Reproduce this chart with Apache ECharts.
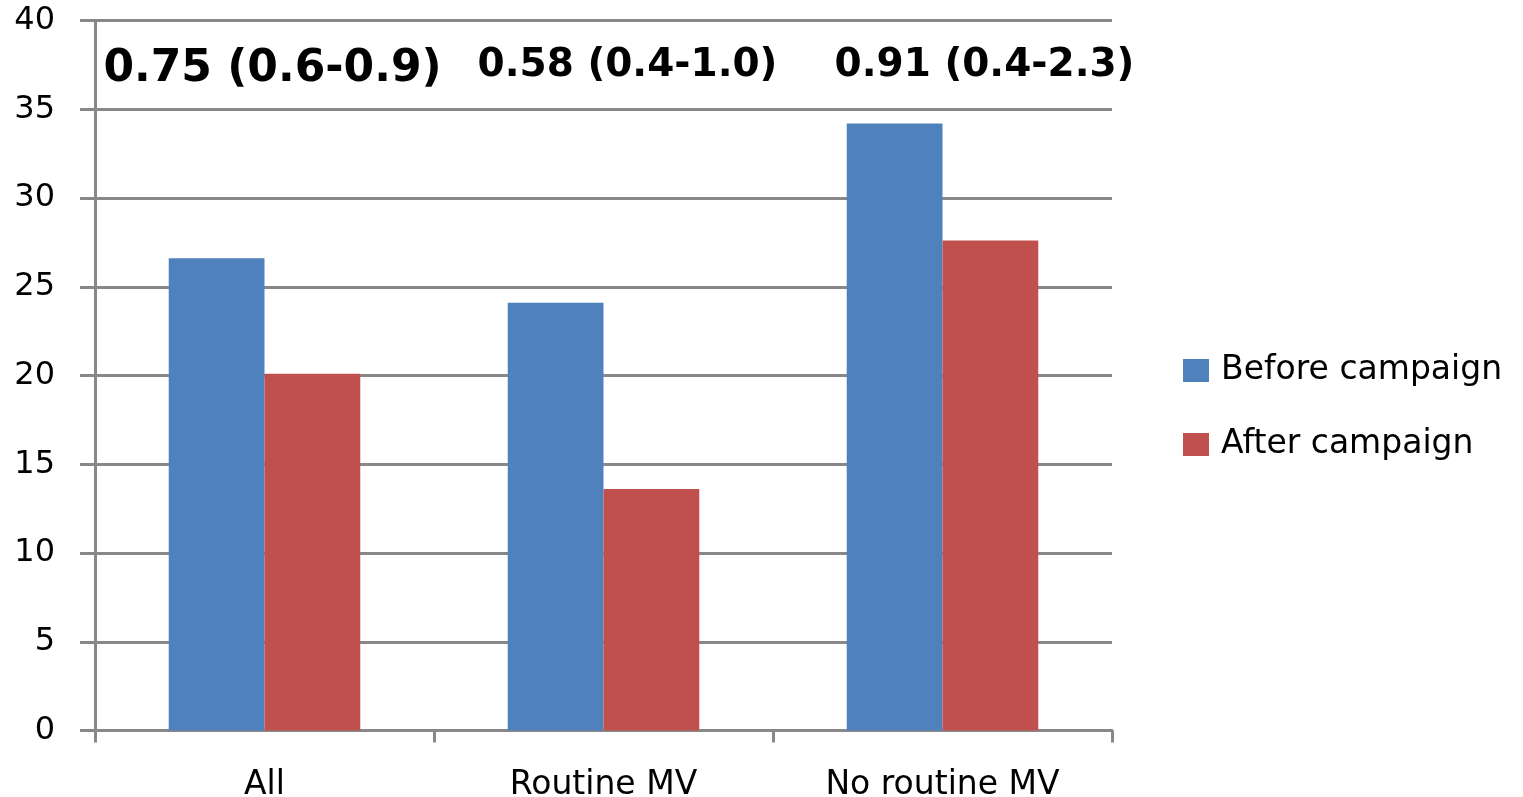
<!DOCTYPE html>
<html>
<head>
<meta charset="utf-8">
<script src="https://cdn.jsdelivr.net/npm/echarts@6/dist/echarts.min.js"></script>
<style>html,body{margin:0;padding:0;background:#fff;}#c{width:1523px;height:797px;}</style>
</head>
<body>
<div id="c"></div>
<script>
const categories = ['All', 'Routine MV', 'No routine MV'];
const beforeValues = [26.6, 24.1, 34.2];
const afterValues = [20.1, 13.6, 27.6];
const seriesNames = ['Before campaign', 'After campaign'];
const annotations = ['0.75 (0.6-0.9)', '0.58 (0.4-1.0)', '0.91 (0.4-2.3)'];

const FONT = '"DejaVu Sans", Verdana, sans-serif';
const chart = echarts.init(document.getElementById('c'), null, {renderer: 'canvas'});
const option = {
  animation: false,
  backgroundColor: '#fff',
  grid: {left: 95, right: 411, top: 20.5, bottom: 66.5, containLabel: false, outerBoundsMode: 'none'},
  legend: {
    orient: 'vertical',
    left: 1183,
    top: 354,
    padding: 0,
    itemWidth: 26,
    itemHeight: 23,
    itemGap: 41,
    icon: 'rect',
    data: seriesNames,
    textStyle: {fontFamily: FONT, fontSize: 33, color: '#000', lineHeight: 30, padding: [0, 0, 0, 7]}
  },
  xAxis: {
    type: 'category',
    data: categories,
    axisLine: {lineStyle: {color: '#888', width: 3}},
    axisTick: {show: true, length: 12, lineStyle: {color: '#888', width: 3}},
    axisLabel: {fontFamily: FONT, fontSize: 33, color: '#000', margin: 38}
  },
  yAxis: {
    type: 'value',
    min: 0, max: 40, interval: 5,
    axisLine: {show: true, lineStyle: {color: '#888', width: 3}},
    axisTick: {show: true, length: 15, lineStyle: {color: '#888', width: 3}},
    axisLabel: {fontFamily: FONT, fontSize: 32, color: '#000', margin: 40},
    splitLine: {show: true, lineStyle: {color: '#888', width: 3}}
  },
  series: [
    {name: seriesNames[0], type: 'bar', data: beforeValues, itemStyle: {color: '#4F81BD'}, barGap: '0%', barCategoryGap: '43.5%'},
    {name: seriesNames[1], type: 'bar', data: afterValues, itemStyle: {color: '#C0504D'}, barGap: '0%', barCategoryGap: '43.5%'}
  ]
};
chart.setOption(option);

// annotations above each category group
const offsets = [8, 24, 42];
const sizes = [44, 39, 39];
const ys = [70, 66, 66];
const graphics = annotations.map((t, i) => {
  const px = chart.convertToPixel({xAxisIndex: 0}, categories[i]);
  return {
    type: 'text',
    x: px + offsets[i],
    y: ys[i],
    style: {text: t, fontFamily: FONT, fontWeight: 'bold', fontSize: sizes[i], fill: '#000', textAlign: 'center', textVerticalAlign: 'middle'}
  };
});
chart.setOption({graphic: graphics});
</script>
</body>
</html>
